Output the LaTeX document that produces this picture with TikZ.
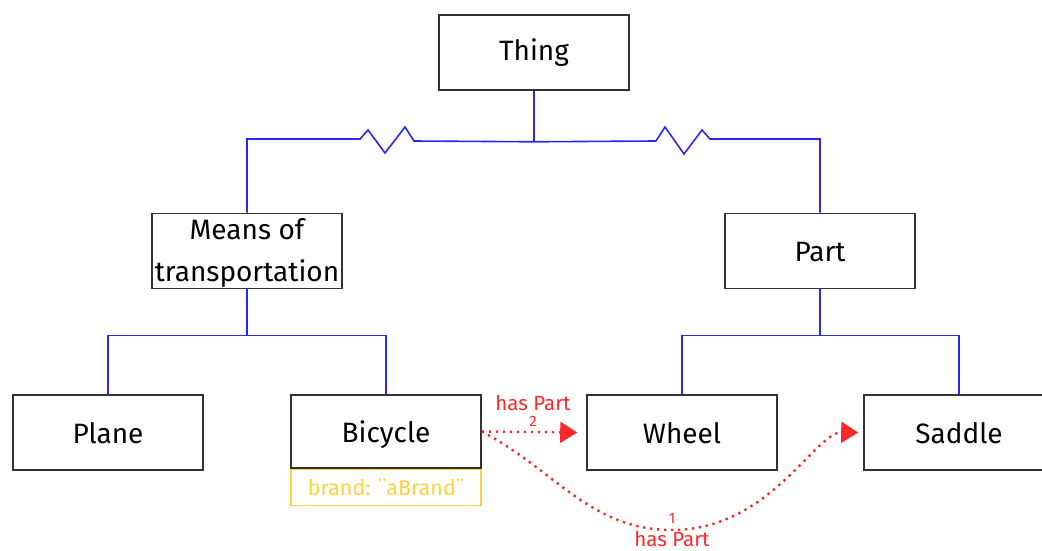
\documentclass[tikz,border=0pt]{standalone}
\usepackage{fontspec}
\setmainfont{Fira Sans}
\usetikzlibrary{arrows.meta}
\definecolor{treeblue}{RGB}{40,40,245}
\definecolor{relred}{RGB}{255,40,40}
\definecolor{attryellow}{RGB}{255,210,60}
\definecolor{boxgray}{RGB}{50,50,50}
\tikzset{
  cls/.style={draw=boxgray, line width=1.6pt, fill=white, minimum width=190pt,
    minimum height=75pt, inner sep=0pt, align=center, font=\fontsize{28}{42}\selectfont},
  oneline/.style={text height=26pt, text depth=5pt},
  attr/.style={draw=attryellow, line width=1.6pt, minimum width=190pt,
    minimum height=36pt, inner sep=0pt, text=attryellow, font=\fontsize{21.5}{24}\selectfont},
  tree/.style={draw=treeblue, line width=1.6pt},
  rel/.style={draw=relred, line width=2.4pt, dash pattern=on 2.4pt off 4.6pt,
    -{Triangle[length=17pt,width=21pt,fill=relred]}},
  rlbl/.style={text=relred, inner sep=0pt, font=\fontsize{20.5}{23}\selectfont},
  rnum/.style={text=relred, inner sep=0pt, font=\fontsize{15}{17}\selectfont},
}
\begin{document}
\begin{tikzpicture}[x=1pt,y=-1pt]
\clip (0,0) rectangle (1042,551);
\fill[white] (0,0) rectangle (1042,551);

% class boxes
\node[cls, text height=23pt, text depth=6pt] (thing) at (534,52.5) {Thing};
\node[cls, text height=62pt, text depth=1pt] (means) at (247,251) {Means of\\transportation};
\node[cls, oneline] (part)    at (820,251)  {Part};
\node[cls, oneline] (plane)   at (108,432.5) {Plane};
\node[cls, oneline, minimum height=73pt] (bicycle) at (386,431.5) {Bicycle};
\node[attr, anchor=north] (brand) at (bicycle.south) {brand: ¨aBrand¨};
\node[cls, oneline] (wheel)   at (682,432.5) {Wheel};
\node[cls, oneline] (saddle)  at (959,432.5) {Saddle};

% generalisation tree
\path (thing.south) ++(0,51) coordinate (tj);
\draw[tree] (thing.south) -- (tj);
\draw[tree] (tj) -- (414,141) -- (405,127) -- (385,153) -- (368,130) -- (360,139) -| (means.north);
\draw[tree] (tj) -- (656,141) -- (665,127) -- (684,154) -- (702,130) -- (710,139) -| (part.north);

\path (means.south) ++(0,46) coordinate (mj);
\draw[tree] (means.south) -- (mj);
\draw[tree] (mj) -| (plane.north);
\draw[tree] (mj) -| (bicycle.north);

\path (part.south) ++(0,46) coordinate (pj);
\draw[tree] (part.south) -- (pj);
\draw[tree] (pj) -| (wheel.north);
\draw[tree] (pj) -| (saddle.north);

% part-of relations
\draw[rel] (bicycle.east) -- ([xshift=-9pt]wheel.west);
\node[rlbl] (hp2) at (533,403) {has Part};
\node[rnum] (n2) at (533,421) {2};

\draw[rel] (bicycle.east) .. controls (555,470) and (590,530) .. (672,530)
  .. controls (770,530) and (815,432) .. ([xshift=-5pt]saddle.west);
\node[rnum] (n1) at (672,518) {1};
\node[rlbl] (hp1) at (672,539) {has Part};
\end{tikzpicture}
\end{document}
